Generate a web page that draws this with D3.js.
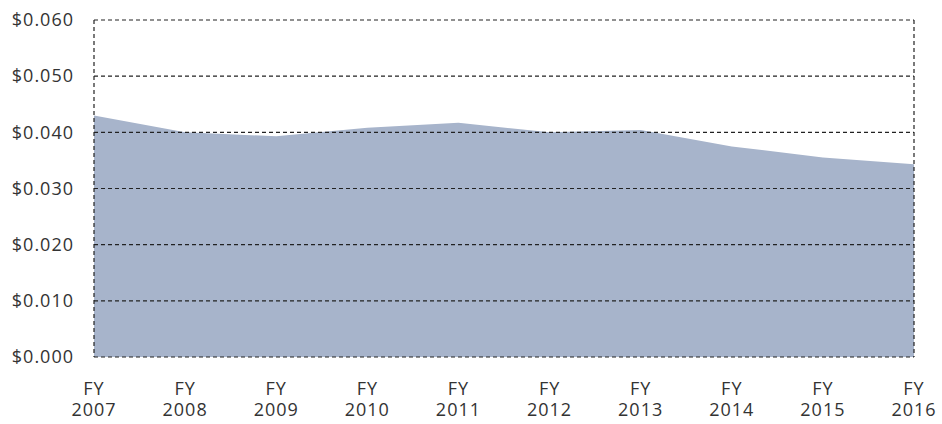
<!DOCTYPE html>
<html>
<head>
<meta charset="utf-8">
<script src="https://cdn.jsdelivr.net/npm/d3@7"></script>
<style>
  html, body { margin: 0; padding: 0; background: #fff; }
  svg text { font-family: "Open Sans", "Noto Sans", sans-serif; fill: #333; letter-spacing: 1px; }
</style>
</head>
<body>
<div id="chart-area"><svg></svg></div>
<script>
const years = ["2007", "2008", "2009", "2010", "2011", "2012", "2013", "2014", "2015", "2016"];
const costs = [0.0430, 0.0400, 0.0393, 0.0408, 0.0417, 0.0400, 0.0404, 0.0375, 0.0355, 0.0343];
const yTicks = [0, 0.01, 0.02, 0.03, 0.04, 0.05, 0.06];

const chartSize = { width: 942, height: 424 };
const margin = { left: 94, right: 28, top: 20, bottom: 67 };

const width = chartSize.width - margin.left - margin.right;
const height = chartSize.height - margin.top - margin.bottom;

const svg = d3.select("#chart-area svg")
    .attr("width", chartSize.width)
    .attr("height", chartSize.height);

const g = svg.append("g")
    .attr("transform", `translate(${margin.left},${margin.top})`);

const x = d3.scalePoint()
    .domain(years)
    .range([0, width])
    .padding(0);

const y = d3.scaleLinear()
    .domain([0, 0.06])
    .range([height, 0]);

const data = years.map((yr, i) => ({ year: yr, value: costs[i] }));

const area = d3.area()
    .x(d => x(d.year))
    .y0(y(0))
    .y1(d => y(d.value));

g.append("path")
    .attr("d", area(data))
    .attr("fill", "#a7b4cb");

// dashed grid + frame
const dash = "4,3";
g.selectAll(".grid")
    .data(yTicks)
    .enter().append("line")
    .attr("class", "grid")
    .attr("x1", 0)
    .attr("x2", width)
    .attr("y1", d => y(d))
    .attr("y2", d => y(d))
    .attr("stroke", "#222")
    .attr("stroke-width", 1.2)
    .attr("stroke-dasharray", dash);

[0, width].forEach(xx => {
    g.append("line")
        .attr("x1", xx).attr("x2", xx)
        .attr("y1", 0).attr("y2", height)
        .attr("stroke", "#222")
        .attr("stroke-width", 1.2)
        .attr("stroke-dasharray", dash);
});

// y axis labels
const yAxis = d3.axisLeft(y)
    .tickValues(yTicks)
    .tickSize(0)
    .tickPadding(20)
    .tickFormat(d => "$" + d3.format(".3f")(d));

g.append("g")
    .attr("class", "y-axis")
    .call(yAxis)
    .call(a => a.select(".domain").remove())
    .selectAll("text")
    .attr("font-size", 18)
    .attr("fill", "#333");

// x axis labels, two lines
const xAxis = g.append("g").attr("class", "x-axis");

xAxis.selectAll(".fy")
    .data(years)
    .enter().append("text")
    .attr("class", "fy")
    .attr("x", d => x(d))
    .attr("y", height + 38)
    .attr("text-anchor", "middle")
    .attr("font-size", 18)
    .text("FY");

xAxis.selectAll(".yr")
    .data(years)
    .enter().append("text")
    .attr("class", "yr")
    .attr("x", d => x(d))
    .attr("y", height + 59)
    .attr("text-anchor", "middle")
    .attr("font-size", 18)
    .text(d => d);
</script>
</body>
</html>
